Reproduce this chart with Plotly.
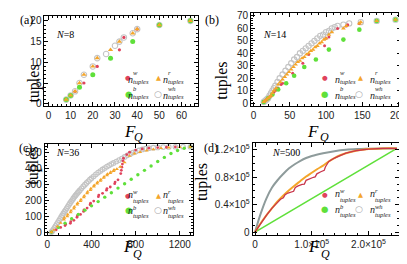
import plotly.graph_objects as go

W, H = 407, 264

# ---------------- data ----------------
# panel (a)  N=8
a_w_fq = [8, 10, 12, 16, 22, 32, 34, 40, 50, 64]
a_w_t = [1, 2, 3, 5, 9, 13, 16, 18, 19, 20]
a_r_fq = [8, 10, 12, 14, 16, 20, 22, 28, 32, 38, 40, 50, 64]
a_r_t = [1, 2, 3, 5, 7, 9, 11, 13, 15, 17, 18, 19, 20]
a_b_fq = [8, 10, 14, 20, 28, 38, 50, 64]
a_b_t = [1, 2, 4, 7, 11, 15, 19, 20]
a_wh_fq = [8, 10, 12, 14, 16, 20, 22, 26, 30, 32, 34, 38, 40, 50, 64]
a_wh_t = [1, 2, 3, 5, 7, 9, 11, 12, 14, 15, 16, 17, 18, 19, 20]

# panel (b)  N=14
b_w_fq = [14, 16, 18, 20, 22, 24, 26, 28, 30, 34, 38, 40, 54, 68, 76, 98, 100, 104, 116, 128, 130, 146, 170, 196]
b_w_t = [1, 2, 3, 4, 5, 6, 7, 9, 10, 12, 15, 16, 24, 32, 39, 46, 52, 53, 60, 62, 63, 64, 66, 67]
b_r_fq = [14, 16, 18, 20, 22, 24, 26, 28, 31, 34, 37, 40, 43, 46, 49, 52, 55, 58, 61, 64, 67, 70, 73, 76,
          79, 82, 85, 88, 91, 94, 97, 100, 104, 108, 124, 128, 146, 148, 170, 196]
b_r_t = [1, 2, 3, 4, 5, 6, 8, 10, 12, 15, 17, 19, 21, 23, 25, 27, 29, 31, 33, 34, 36, 37, 39, 40,
         42, 43, 45, 46, 48, 49, 51, 52, 55, 57, 60, 62, 64, 65, 66, 67]
b_b_fq = [14, 20, 26, 34, 45, 56, 70, 86, 104, 124, 146, 170, 196]
b_b_t = [1, 4, 7, 11, 16, 22, 29, 35, 43, 51, 59, 66, 67]
b_wh_fq = [14, 16, 18, 20, 22, 24, 26, 28, 30, 33, 36, 40, 44, 48, 52, 56, 60, 64, 68, 72, 76, 80,
           84, 88, 92, 96, 100, 104, 108, 112, 116, 124, 132, 148, 170, 196]
b_wh_t = [1, 2, 3, 4, 6, 8, 10, 12, 14, 17, 20, 23, 26, 29, 32, 35, 37, 40, 42, 44, 46, 48,
          50, 52, 54, 55, 57, 58, 60, 61, 62, 63, 64, 65, 66, 67]

# panel (c)  N=36
c_w_fq = [36, 80, 120, 160, 165, 208, 212, 240, 268, 272, 300, 328, 332, 360, 387, 391, 420, 462, 466,
          500, 536, 540, 570, 610, 614, 640, 665, 670, 675, 680, 685, 690, 720, 745, 800, 860, 920,
          1000, 1080, 1160, 1296]
c_w_t = [0, 15, 30, 42, 50, 56, 66, 75, 94, 104, 112, 131, 141, 152, 173, 183, 196, 224, 234,
         245, 265, 275, 285, 306, 316, 330, 370, 390, 410, 430, 450, 467, 490, 505, 518, 525, 530,
         534, 536, 538, 539]
c_r_fq = [36, 60, 90, 120, 150, 154, 180, 184, 210, 214, 240, 244, 270, 274, 300, 304, 330, 334,
          360, 364, 390, 394, 420, 424, 450, 454, 480, 484, 510, 514, 540, 544, 570, 574, 600, 604,
          630, 660, 700, 745, 790, 840, 900, 960, 1030, 1100, 1200, 1296]
c_r_t = [0, 14, 36, 58, 80, 90, 100, 111, 125, 136, 149, 160, 174, 184, 196, 206, 219, 229,
         245, 254, 266, 275, 288, 296, 306, 314, 324, 332, 342, 350, 358, 366, 372, 380, 386, 394,
         398, 412, 440, 481, 496, 505, 515, 523, 530, 534, 537, 539]
c_b_fq = [36, 100, 160, 220, 280, 340, 400, 460, 520, 580, 640, 700, 760, 820, 880, 940, 1000,
          1060, 1120, 1180, 1240, 1296]
c_b_t = [0, 30, 57, 85, 112, 139, 166, 193, 221, 249, 278, 306, 334, 362, 390, 418, 446,
         472, 496, 515, 530, 539]
c_wh_fq = [36, 45, 55, 65, 75, 85, 95, 105, 115, 125, 135, 145, 155, 165, 175, 185, 195, 205,
           215, 225, 235, 245, 255, 265, 275, 285, 295, 310, 325, 340, 355, 370, 385, 400, 420,
           440, 460, 480, 500, 520, 540, 560, 580, 600, 625, 650, 675, 700, 725, 750, 775, 800,
           830, 860, 890, 920, 960, 1000, 1050, 1100, 1160, 1230, 1296]
c_wh_t = [0, 8, 18, 29, 40, 51, 62, 73, 84, 96, 107, 118, 129, 140, 151, 162, 173, 183,
          193, 203, 213, 223, 232, 241, 249, 257, 265, 277, 289, 300, 311, 321, 331, 341, 353,
          365, 376, 386, 396, 405, 414, 422, 430, 437, 446, 455, 465, 475, 485, 494, 502, 509,
          516, 522, 527, 530, 533, 535, 537, 538, 539, 539, 539]

# panel (d)  N=500
d_w_fq = [0, 10000, 20000, 30000, 40000, 45000, 50000, 53000, 58000, 65000, 68000, 71000, 76000,
          83000, 87000, 90000, 96000, 103000, 106000, 109000, 116000, 122000, 124000, 127000,
          130000, 140000, 150000, 160000, 180000, 200000, 225000, 250000]
d_w_t = [0, 13000, 24500, 35000, 44000, 48000, 50000, 54500, 57000, 59000, 59500, 65000, 67500,
         69500, 70000, 75500, 78000, 80000, 80500, 85000, 88000, 90000, 95000, 100000,
         103000, 108000, 112000, 115000, 119000, 121000, 122000, 122000]
d_r_fq = [0, 10000, 20000, 30000, 40000, 50000, 60000, 70000, 80000, 90000, 100000, 110000,
          120000, 130000, 140000, 150000, 160000, 180000, 200000, 225000, 250000]
d_r_t = [0, 13000, 24500, 35000, 45000, 53500, 61000, 68000, 74500, 81000, 86500, 92000,
         97000, 103000, 108000, 112000, 115000, 119000, 121000, 122000, 122000]
d_b_fq = [0, 125000, 250000]
d_b_t = [0, 61000, 122000]
d_wh_fq = [0, 10000, 20000, 30000, 40000, 50000, 60000, 70000, 80000, 90000, 100000, 120000,
           140000, 160000, 180000, 200000, 225000, 250000]
d_wh_t = [0, 27000, 49000, 65000, 76000, 85000, 93000, 99000, 104000, 108000, 111000, 115000,
          118000, 120000, 121000, 121500, 122000, 122000]

# ---------------- styling ----------------
RED = "#e0435c"
ORANGE = "#f4a52a"
GREEN = "#5fe03a"
GRAY = "#c4c4c4"
SERIF = "Liberation Serif"
SANS = "Liberation Sans"


def fx(x):
    return x / W


def fy(y):
    return 1 - y / H


fig = go.Figure()

panels = [
    dict(name="a", n="8", xd=(37, 193), yd=(5, 97), xr=[-1.8, 67.5], yr=[-0.5, 21.2],
         xt=dict(dtick=10, tick0=0), yt=dict(dtick=5, tick0=0), xm=2, ym=1,
         data=[(a_wh_fq, a_wh_t), (a_b_fq, a_b_t), (a_w_fq, a_w_t), (a_r_fq, a_r_t)],
         sizes=(5.5, 5, 3.2, 4.6),
         lab=(10, 0), nlab=(46.7, 16.7), ytit=(15, 53), xtit=(120, 123.5), leg=(117, 62)),
    dict(name="b", n="14", xd=(246.7, 399), yd=(2.5, 97), xr=[-3.5, 203.7], yr=[-2.1, 72],
         xt=dict(dtick=50, tick0=0), yt=dict(dtick=10, tick0=0), xm=10, ym=2,
         data=[(b_wh_fq, b_wh_t), (b_b_fq, b_b_t), (b_w_fq, b_w_t), (b_r_fq, b_r_t)],
         sizes=(5.3, 4.6, 3, 4.2),
         lab=(207, 0), nlab=(256.7, 16), ytit=(217, 50), xtit=(322, 123.5), leg=(326.7, 62)),
    dict(name="c", n="36", xd=(37.3, 188), yd=(136, 229.3), xr=[-24, 1322], yr=[-18.5, 557],
         xt=dict(tickvals=[0, 400, 800, 1200]), yt=dict(dtick=100, tick0=0), xm=100, ym=20,
         data=[(c_wh_fq, c_wh_t), (c_b_fq, c_b_t), (c_w_fq, c_w_t), (c_r_fq, c_r_t)],
         sizes=(4.6, 3.4, 2.8, 3.6),
         lab=(9, 130.5), nlab=(46.7, 145), ytit=(14, 180), xtit=(119, 253), leg=(117, 195)),
    dict(name="d", n="500", xd=(248.3, 397), yd=(135, 229), xr=[-4170, 254000], yr=[-3840, 130000],
         xt=dict(tickvals=[0, 100000, 200000],
                 ticktext=["0", "1.0×10<sup>5</sup>", "2.0×10<sup>5</sup>"]),
         yt=dict(tickvals=[0, 40000, 80000, 120000],
                 ticktext=["0", "0.4×10<sup>5</sup>", "0.8×10<sup>5</sup>", "1.2×10<sup>5</sup>"]),
         xm=20000, ym=10000,
         data=[(d_wh_fq, d_wh_t), (d_b_fq, d_b_t), (d_w_fq, d_w_t), (d_r_fq, d_r_t)],
         sizes=None,
         lab=(206, 130.5), nlab=(266, 145), ytit=(197, 175), xtit=(323, 253), leg=(326.7, 194)),
]

annotations = []
layout_axes = {}
for i, p in enumerate(panels):
    k = "" if i == 0 else str(i + 1)
    xa, ya = "x" + k, "y" + k
    common = dict(showline=True, linecolor="black", linewidth=1, mirror="ticks",
                  ticks="inside", ticklen=4, tickcolor="black", tickwidth=1,
                  showgrid=False, zeroline=False, ticklabeloverflow="allow",
                  tickfont=dict(family=SANS, size=10, color="#222"))
    layout_axes["xaxis" + k] = dict(common, domain=[fx(p["xd"][0]), fx(p["xd"][1])],
                                    range=p["xr"], anchor=ya,
                                    minor=dict(ticks="inside", ticklen=2, dtick=p["xm"],
                                               tickcolor="black"),
                                    **p["xt"])
    layout_axes["yaxis" + k] = dict(common, domain=[fy(p["yd"][1]), fy(p["yd"][0])],
                                    range=p["yr"], anchor=xa,
                                    minor=dict(ticks="inside", ticklen=2, dtick=p["ym"],
                                               tickcolor="black"),
                                    **p["yt"])
    (whx, why), (bx, by), (wx, wy), (rx, ry) = p["data"]
    if p["sizes"] is not None:
        s_wh, s_b, s_w, s_r = p["sizes"]
        fig.add_trace(go.Scatter(x=whx, y=why, mode="markers", xaxis=xa, yaxis=ya,
                                 marker=dict(symbol="circle-open", size=s_wh, color=GRAY,
                                             line=dict(width=1.1, color=GRAY)),
                                 showlegend=False))
        fig.add_trace(go.Scatter(x=wx, y=wy, mode="markers", xaxis=xa, yaxis=ya,
                                 marker=dict(symbol="circle", size=s_w, color=RED),
                                 showlegend=False))
        fig.add_trace(go.Scatter(x=bx, y=by, mode="markers", xaxis=xa, yaxis=ya,
                                 marker=dict(symbol="circle", size=s_b, color=GREEN),
                                 showlegend=False))
        fig.add_trace(go.Scatter(x=rx, y=ry, mode="markers", xaxis=xa, yaxis=ya,
                                 marker=dict(symbol="triangle-up", size=s_r, color=ORANGE),
                                 showlegend=False))
    else:
        fig.add_trace(go.Scatter(x=bx, y=by, mode="lines", xaxis=xa, yaxis=ya,
                                 line=dict(color=GREEN, width=1.6), showlegend=False))
        fig.add_trace(go.Scatter(x=whx, y=why, mode="lines", xaxis=xa, yaxis=ya,
                                 line=dict(color="#8e9b9b", width=2, shape="spline"),
                                 showlegend=False))
        fig.add_trace(go.Scatter(x=rx, y=ry, mode="lines", xaxis=xa, yaxis=ya,
                                 line=dict(color=ORANGE, width=2, shape="spline"),
                                 showlegend=False))
        fig.add_trace(go.Scatter(x=wx, y=wy, mode="lines", xaxis=xa, yaxis=ya,
                                 line=dict(color="#c9364c", width=1.3),
                                 showlegend=False))

    # panel letter
    annotations.append(dict(x=fx(p["lab"][0]), y=fy(p["lab"][1]), xref="paper", yref="paper",
                            yanchor="top", text="(" + p["name"] + ")", showarrow=False,
                            font=dict(family=SERIF, size=12, color="black")))
    # N label
    annotations.append(dict(x=fx(p["nlab"][0]), y=fy(p["nlab"][1]), xref="paper", yref="paper",
                            xanchor="left", text="<i>N</i>=" + p["n"], showarrow=False,
                            font=dict(family=SERIF, size=10, color="black")))
    # axis titles
    annotations.append(dict(x=fx(p["ytit"][0]), y=fy(p["ytit"][1]), xref="paper", yref="paper",
                            text="tuples", textangle=-90, showarrow=False,
                            font=dict(family=SERIF, size=16, color="black")))
    tx, ty = p["xtit"]
    annotations.append(dict(x=fx(tx - 4.5), y=fy(ty), xref="paper", yref="paper",
                            text="<i>F</i>", showarrow=False,
                            font=dict(family=SERIF, size=17, color="black")))
    annotations.append(dict(x=fx(tx + 5.5), y=fy(ty + 5), xref="paper", yref="paper",
                            text="<i>Q</i>", showarrow=False,
                            font=dict(family=SERIF, size=12, color="black")))
    # legend (2 x 2), sub/superscripts stacked
    lx, ly = p["leg"]
    items = [("●", RED, 6.5, "w", 0, 0), ("▲", ORANGE, 6.5, "r", 1, 0),
             ("●", GREEN, 8.5, "b", 0, 1), ("○", "#aaaaaa", 9, "wh", 1, 1)]
    for g, col, gs, sup, cx, cy in items:
        mx = lx + cx * 35.4
        my = ly + cy * 16
        annotations.append(dict(x=fx(mx), y=fy(my), xref="paper", yref="paper", text=g,
                                showarrow=False, font=dict(family="DejaVu Sans", size=gs, color=col)))
        annotations.append(dict(x=fx(mx + 3), y=fy(my + 0.5), xref="paper", yref="paper",
                                xanchor="left", showarrow=False, text="<i>n</i>",
                                font=dict(family=SERIF, size=10, color="#222")))
        annotations.append(dict(x=fx(mx + 8.2), y=fy(my - 4.5), xref="paper", yref="paper",
                                xanchor="left", showarrow=False, text="<i>" + sup + "</i>",
                                font=dict(family=SERIF, size=6.5, color="#222")))
        annotations.append(dict(x=fx(mx + 8.2), y=fy(my + 4.2), xref="paper", yref="paper",
                                xanchor="left", showarrow=False, text="<i>tuples</i>",
                                font=dict(family=SERIF, size=6.5, color="#222")))

fig.update_layout(width=W, height=H, margin=dict(l=0, r=0, t=0, b=0),
                  paper_bgcolor="white", plot_bgcolor="white",
                  annotations=annotations, **layout_axes)

fig.write_html("out.html")
